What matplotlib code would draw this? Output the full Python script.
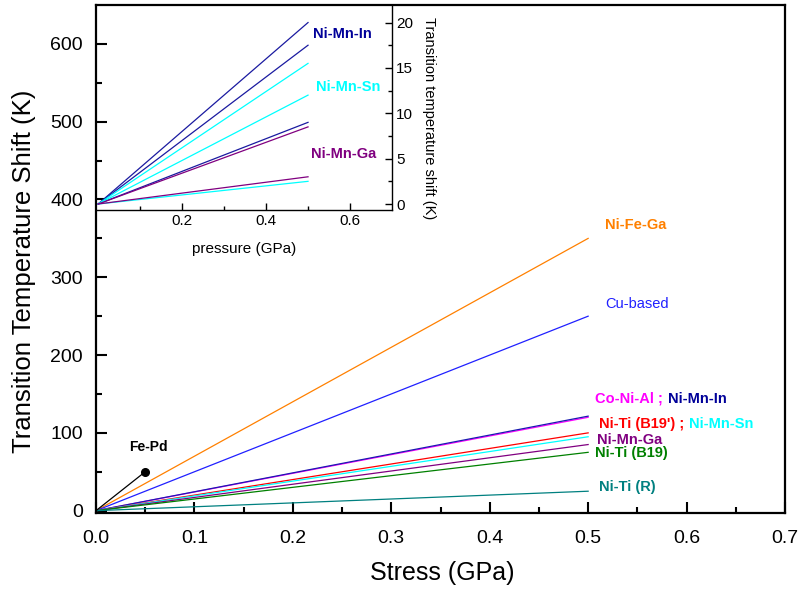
import matplotlib
matplotlib.use("Agg")
import matplotlib.pyplot as plt
from matplotlib.ticker import MultipleLocator, FixedLocator

plt.rcParams['font.family'] = ['Liberation Sans', 'DejaVu Sans']

# ---- main chart data (stress in GPa, shift in K) ----
stress = [0.0, 0.5]
main_names = ["Ni-Fe-Ga", "Cu-based", "Co-Ni-Al", "Ni-Mn-In", "Ni-Ti (B19')",
              "Ni-Mn-Sn", "Ni-Mn-Ga", "Ni-Ti (B19)", "Ni-Ti (R)"]
main_shift_end = [350, 250, 120, 121.5, 100, 95, 85, 75, 25]
main_colors = ["#FF8000", "#2020FF", "#FF00FF", "#1A1AB0", "#FF0000",
               "#00FFFF", "#800080", "#008000", "#008080"]

fepd_stress = [0.0, 0.05]
fepd_shift = [0, 50]

# ---- inset data (pressure in GPa, shift in K) ----
pressure = [0.0, 0.5]
inset_names = ["Ni-Mn-In", "Ni-Mn-In", "Ni-Mn-In", "Ni-Mn-Sn", "Ni-Mn-Sn", "Ni-Mn-Sn",
               "Ni-Mn-Ga", "Ni-Mn-Ga"]
inset_shift_end = [20, 17.5, 9, 15.5, 12, 2.5, 8.5, 3]
inset_colors = {"Ni-Mn-In": "#1A1AA0", "Ni-Mn-Sn": "#00FFFF", "Ni-Mn-Ga": "#800080"}

fig = plt.figure(figsize=(8.02, 5.93), dpi=100)
ax = fig.add_axes([96/802, 1-513/593, (785-96)/802, (513-5)/593])

for name, end, col in zip(main_names, main_shift_end, main_colors):
    ax.plot(stress, [0, end], color=col, lw=0.9)
ax.plot(fepd_stress, fepd_shift, color='black', lw=0.9)
ax.plot([fepd_stress[-1]], [fepd_shift[-1]], 'o', color='black', ms=5.5)

ax.set_xlim(0, 0.7)
ax.set_ylim(-3, 650)
ax.xaxis.set_major_locator(MultipleLocator(0.1))
ax.xaxis.set_minor_locator(MultipleLocator(0.05))
ax.yaxis.set_major_locator(FixedLocator([0, 100, 200, 300, 400, 500, 600]))
ax.yaxis.set_minor_locator(FixedLocator([50, 150, 250, 350, 450, 550]))
ax.xaxis.set_major_formatter(matplotlib.ticker.FormatStrFormatter('%.1f'))
ax.tick_params(which='major', direction='in', length=8, width=1.5, labelsize=14)
ax.tick_params(axis='x', which='major', pad=12)
ax.tick_params(axis='y', which='major', pad=9.5)
ax.tick_params(which='minor', direction='in', length=4.5, width=1.5)
for s in ax.spines.values():
    s.set_linewidth(1.6)
ax.set_xlabel("Stress (GPa)", fontsize=18)
ax.set_ylabel("Transition Temperature Shift (K)", fontsize=18.5)
ax.xaxis.set_label_coords(0.502, -0.094)
ax.yaxis.set_label_coords(-0.087, 0.475)

fs = 10.5
ax.text(0.517, 367, "Ni-Fe-Ga", color="#FF8000", fontsize=fs, fontweight='bold', va='center')
ax.text(0.517, 266, "Cu-based", color="#2020FF", fontsize=fs, va='center')
t1 = ax.text(0.507, 144, "Co-Ni-Al ;", color="#FF00FF", fontsize=fs, fontweight='bold', va='center')
ax.annotate("Ni-Mn-In", xy=(1, 0.5), xycoords=t1, xytext=(3.5, 0), textcoords='offset points',
            color="#000099", fontsize=fs, fontweight='bold', va='center', ha='left')
t2 = ax.text(0.511, 112, "Ni-Ti (B19') ;", color="#FF0000", fontsize=fs, fontweight='bold', va='center')
ax.annotate("Ni-Mn-Sn", xy=(1, 0.5), xycoords=t2, xytext=(3.5, 0), textcoords='offset points',
            color="#00FFFF", fontsize=fs, fontweight='bold', va='center', ha='left')
ax.text(0.509, 91, "Ni-Mn-Ga", color="#800080", fontsize=fs, fontweight='bold', va='center')
ax.text(0.507, 74, "Ni-Ti (B19)", color="#008000", fontsize=fs, fontweight='bold', va='center')
ax.text(0.511, 31, "Ni-Ti (R)", color="#008080", fontsize=fs, fontweight='bold', va='center')
ax.text(0.034, 82, "Fe-Pd", color="black", fontsize=fs - 0.5, fontweight='bold', va='center')

# ---- inset ----
axi = fig.add_axes([96/802, 1-210/593, (392-96)/802, (210-5.3)/593])
axi.patch.set_alpha(0)
for name, end in zip(inset_names, inset_shift_end):
    axi.plot(pressure, [0, end], color=inset_colors[name], lw=0.9)
axi.set_xlim(-0.005, 0.7)
axi.set_ylim(-0.66, 21.9)
axi.xaxis.set_major_locator(FixedLocator([0.2, 0.4, 0.6]))
axi.xaxis.set_minor_locator(FixedLocator([0.1, 0.3, 0.5]))
axi.yaxis.set_major_locator(FixedLocator([0, 5, 10, 15, 20]))
axi.yaxis.set_minor_locator(FixedLocator([2.5, 7.5, 12.5, 17.5]))
axi.yaxis.tick_right()
axi.yaxis.set_label_position('right')
axi.tick_params(which='major', direction='in', length=5, width=1, labelsize=11, pad=3)
axi.tick_params(which='minor', direction='in', length=3, width=1)
axi.tick_params(axis='y', left=False, labelleft=False)
axi.tick_params(axis='x', top=False)
axi.tick_params(axis='y', which='minor', left=False)
axi.tick_params(axis='x', which='minor', top=False)
axi.spines['left'].set_visible(False)
axi.spines['top'].set_visible(False)
axi.spines['bottom'].set_linewidth(1.0)
axi.spines['right'].set_linewidth(1.0)
axi.set_xlabel("pressure (GPa)", fontsize=11)
axi.set_ylabel("Transition temperature shift (K)", fontsize=10.5, rotation=-90)
axi.xaxis.set_label_coords(0.5, -0.155)
axi.yaxis.set_label_coords(1.149, 0.449)
axi.text(0.513, 18.75, "Ni-Mn-In", color="#000099", fontsize=fs, fontweight='bold', va='center')
axi.text(0.518, 12.9, "Ni-Mn-Sn", color="#00FFFF", fontsize=fs, fontweight='bold', va='center')
axi.text(0.508, 5.5, "Ni-Mn-Ga", color="#800080", fontsize=fs, fontweight='bold', va='center')

fig.savefig("out.png", dpi=100)
